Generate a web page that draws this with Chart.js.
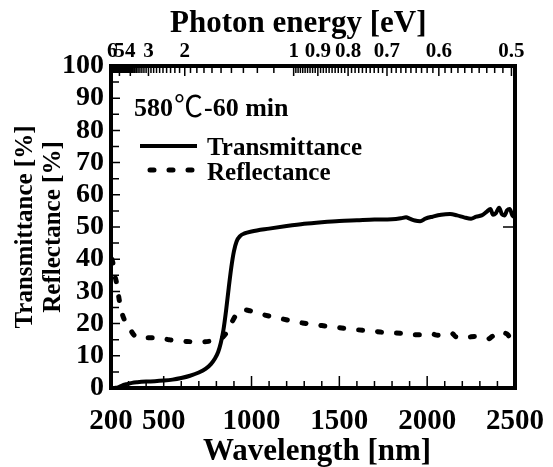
<!DOCTYPE html>
<html>
<head>
<meta charset="utf-8">
<script src="https://cdn.jsdelivr.net/npm/chart.js@4.4.1/dist/chart.umd.min.js"></script>
<style>
  html, body { margin: 0; padding: 0; background: #fff; }
  #wrap { width: 553px; height: 467px; }
</style>
</head>
<body>
<div id="wrap"><canvas id="spec"></canvas></div>
<script>
// measured spectra (wavelength in nm, value in %)
const transWl  = [220, 240, 260, 290, 320, 350, 400, 450, 500, 550, 600, 650, 700, 740, 770, 790, 810, 825, 840, 855, 870, 885, 900, 915, 935, 960, 1000, 1100, 1200, 1300, 1400, 1500, 1600, 1700, 1800, 1850, 1880, 1900, 1930, 1960, 1990, 2030, 2080, 2130, 2170, 2210, 2250, 2280, 2310, 2340, 2360, 2375, 2390, 2410, 2425, 2440, 2455, 2470, 2485, 2500];
const transVal = [0, 0.2, 0.7, 1.2, 1.6, 1.8, 2.0, 2.1, 2.3, 2.6, 3.1, 3.8, 4.8, 6.0, 7.5, 9.0, 11.2, 14, 18, 24, 31, 37.5, 42.5, 45.5, 47.2, 48.0, 48.6, 49.5, 50.3, 51.0, 51.5, 51.9, 52.1, 52.3, 52.4, 52.7, 53.0, 52.6, 52.0, 51.8, 52.6, 53.2, 53.8, 54.0, 53.6, 53.0, 52.6, 53.2, 53.6, 54.8, 55.6, 53.8, 54.2, 56.0, 54.0, 53.6, 55.2, 55.6, 53.6, 53.0];

const reflWl  = [205, 211, 222, 234, 245, 255, 270, 297, 330, 360, 420, 470, 530, 580, 650, 705, 760, 800, 830, 855, 880, 910, 940, 960, 990, 1065, 1180, 1290, 1400, 1500, 1600, 1700, 1790, 1850, 1910, 1975, 2025, 2060, 2110, 2140, 2165, 2200, 2230, 2270, 2300, 2345, 2370, 2400, 2420, 2440, 2460, 2480, 2500];
const reflVal = [40, 38.8, 35, 32, 28, 25, 22, 19.5, 16.5, 15.6, 15.6, 15.6, 15.0, 14.6, 14.4, 14.3, 14.5, 14.8, 15.5, 17, 19.6, 22.5, 24.0, 24.3, 24.0, 22.8, 21.4, 20.2, 19.4, 18.7, 18.1, 17.6, 17.1, 17.0, 16.5, 16.5, 16.8, 16.4, 16.8, 17.0, 15.9, 16.2, 15.8, 16.0, 15.7, 15.2, 16.0, 17.1, 16.6, 17.0, 16.5, 14.5, 13.8];

// axis ticks
const wlTicks = [200, 500, 1000, 1500, 2000, 2500];
const pctTicks = [0, 10, 20, 30, 40, 50, 60, 70, 80, 90, 100];
const energyLabels = [6, 5, 4, 3, 2, 1, 0.9, 0.8, 0.7, 0.6, 0.5];

const HC = 1239.84; // eV*nm
const FONT = '"Liberation Serif", "Times New Roman", serif';
const CJK = '"Noto Sans CJK JP", "Noto Sans CJK SC", sans-serif';

function toXY(xs, ys) {
  return xs.map((x, i) => ({ x: x, y: ys[i] }));
}

// energy minor ticks: 0.01 eV below 1 eV, 0.1 eV above
function energyMinor() {
  const out = [];
  for (let i = 50; i < 100; i++) out.push(i / 100);
  for (let i = 10; i <= 62; i++) out.push(i / 10);
  return out;
}

// frame plus inward-pointing tick marks
const frameTicks = {
  id: 'frameTicks',
  afterDatasetsDraw(chart) {
    const { ctx, chartArea: a, scales } = chart;
    const x = scales.x, y = scales.y, top = scales.xTop;
    ctx.save();
    ctx.strokeStyle = '#000';
    ctx.lineWidth = 1.5;
    ctx.beginPath();
    // bottom: 100 nm minor, 500 nm major
    for (let w = 200; w <= 2500; w += 100) {
      const px = x.getPixelForValue(w);
      const len = (w % 500 === 0) ? 12 : 7;
      ctx.moveTo(px, a.bottom);
      ctx.lineTo(px, a.bottom - len);
    }
    // left: 5 % minor, 10 % major
    for (let v = 0; v <= 100; v += 5) {
      const py = y.getPixelForValue(v);
      const len = (v % 10 === 0) ? 9 : 8;
      ctx.moveTo(a.left, py);
      ctx.lineTo(a.left + len, py);
    }
    // right: single mark at 50 %
    const p50 = y.getPixelForValue(50);
    ctx.moveTo(a.right, p50);
    ctx.lineTo(a.right - 12, p50);
    // top: photon energy
    energyMinor().forEach(e => {
      const px = top.getPixelForValue(HC / e);
      if (px < a.left || px > a.right) return;
      ctx.moveTo(px, a.top);
      ctx.lineTo(px, a.top + 7);
    });
    energyLabels.forEach(e => {
      const px = top.getPixelForValue(HC / e);
      ctx.moveTo(px, a.top);
      ctx.lineTo(px, a.top + 10);
    });
    ctx.stroke();

    ctx.lineWidth = 4;
    ctx.strokeRect(a.left, a.top, a.right - a.left, a.bottom - a.top);
    ctx.restore();
  }
};

// horizontal axis titles, set slightly off-centre
const axisTitles = {
  id: 'axisTitles',
  afterDraw(chart) {
    const { ctx } = chart;
    ctx.save();
    ctx.fillStyle = '#000';
    ctx.textBaseline = 'alphabetic';
    ctx.font = 'bold 31px ' + FONT;
    ctx.fillText('Photon energy [eV]', 170, 32);
    ctx.fillText('Wavelength [nm]', 203, 460);
    ctx.restore();
  }
};

// sample caption and legend inside the plot
const insetLegend = {
  id: 'insetLegend',
  afterDatasetsDraw(chart) {
    const { ctx } = chart;
    ctx.save();
    ctx.fillStyle = '#000';
    ctx.textBaseline = 'alphabetic';

    // "580℃-60 min", degree sign set in a CJK face
    let cx = 134;
    ctx.font = 'bold 26px ' + FONT;
    ctx.fillText('580', cx, 116);
    cx += ctx.measureText('580').width + 1;
    ctx.font = '29px ' + CJK;
    ctx.fillText('\u2103', cx, 117);
    cx += ctx.measureText('\u2103').width + 1;
    ctx.font = 'bold 26px ' + FONT;
    ctx.fillText('-60 min', cx, 116);

    ctx.font = 'bold 25px ' + FONT;
    const rows = [146, 170];
    const textY = [155, 180];
    chart.data.datasets.forEach((ds, i) => {
      const yy = rows[i];
      ctx.strokeStyle = ds.borderColor;
      ctx.lineWidth = ds.borderWidth;
      ctx.lineCap = ds.borderCapStyle || 'butt';
      ctx.setLineDash(ds.borderDash || []);
      ctx.beginPath();
      if (ds.borderDash) {
        ctx.moveTo(150, yy);
        ctx.lineTo(196, yy);
      } else {
        ctx.moveTo(140, yy);
        ctx.lineTo(197, yy);
      }
      ctx.stroke();
      ctx.setLineDash([]);
      ctx.fillText(ds.label, 207, textY[i]);
    });
    ctx.restore();
  }
};

new Chart(document.getElementById('spec'), {
  type: 'line',
  data: {
    datasets: [
      {
        label: 'Transmittance',
        data: toXY(transWl, transVal),
        borderColor: '#000',
        borderWidth: 4,
        pointRadius: 0,
        cubicInterpolationMode: 'monotone',
        fill: false
      },
      {
        label: 'Reflectance',
        data: toXY(reflWl, reflVal),
        borderColor: '#000',
        borderWidth: 5,
        borderDash: [4, 15],
        borderCapStyle: 'round',
        pointRadius: 0,
        cubicInterpolationMode: 'monotone',
        fill: false
      }
    ]
  },
  options: {
    responsive: true,
    maintainAspectRatio: false,
    animation: false,
    layout: { padding: { left: 0, right: 38, top: 0, bottom: 0 } },
    plugins: {
      legend: { display: false },
      tooltip: { enabled: false }
    },
    scales: {
      x: {
        type: 'linear',
        position: 'bottom',
        min: 200,
        max: 2500,
        afterBuildTicks: s => { s.ticks = wlTicks.map(v => ({ value: v })); },
        afterFit: s => { s.height = 79; s.paddingLeft = 0; s.paddingRight = 0; },
        grid: { display: false, drawTicks: false },
        border: { display: false },
        ticks: {
          autoSkip: false,
          maxRotation: 0,
          padding: 16,
          color: '#000',
          font: { family: FONT, size: 29, weight: 'bold' },
          callback: v => String(v)
        },
        title: { display: false }
      },
      xTop: {
        type: 'linear',
        position: 'top',
        min: 200,
        max: 2500,
        afterBuildTicks: s => { s.ticks = energyLabels.map(e => ({ value: HC / e })); },
        afterFit: s => { s.height = 66; s.paddingLeft = 0; s.paddingRight = 0; },
        grid: { display: false, drawTicks: false },
        border: { display: false },
        ticks: {
          autoSkip: false,
          maxRotation: 0,
          padding: 2,
          color: '#000',
          font: { family: FONT, size: 21, weight: 'bold' },
          callback: (v, i) => String(energyLabels[i])
        },
        title: { display: false }
      },
      y: {
        type: 'linear',
        min: 0,
        max: 100,
        afterBuildTicks: s => { s.ticks = pctTicks.map(v => ({ value: v })); },
        afterFit: s => { s.width = 111; },
        grid: { display: false, drawTicks: false },
        border: { display: false },
        ticks: {
          autoSkip: false,
          padding: 7,
          color: '#000',
          font: { family: FONT, size: 28, weight: 'bold' },
          callback: v => String(v)
        },
        title: {
          display: true,
          text: ['Transmittance [%]', 'Reflectance [%]'],
          color: '#000',
          padding: { top: 12, bottom: 0 },
          font: { family: FONT, size: 25, weight: 'bold', lineHeight: 1.1 }
        }
      }
    }
  },
  plugins: [frameTicks, insetLegend, axisTitles]
});
</script>
</body>
</html>
